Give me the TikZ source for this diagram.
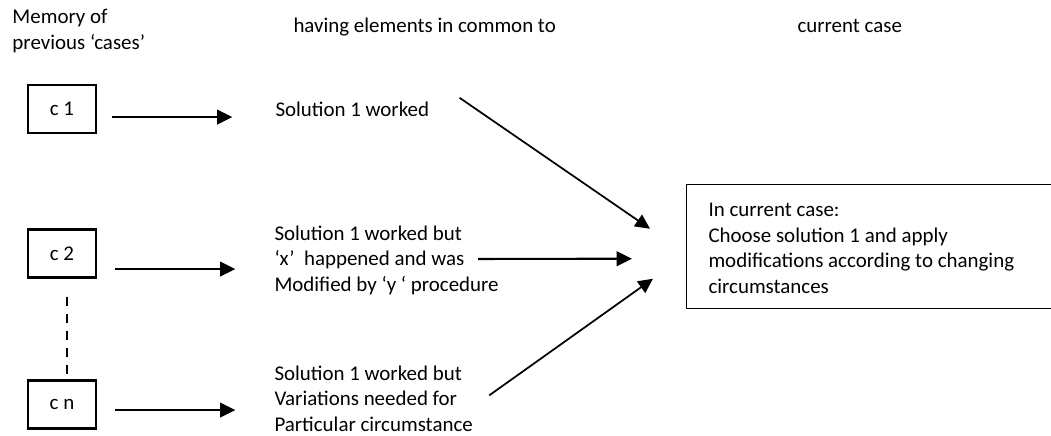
\documentclass[tikz,border=0pt]{standalone}
\usepackage{fontspec}
\setmainfont{Carlito}
\usetikzlibrary{arrows.meta,calc}

\tikzset{every picture/.style={line width=0.75pt}}
\tikzset{
  casebox/.style={draw, line width=2pt, minimum width=51pt, minimum height=36pt, inner sep=0pt},
  txt/.style={inner sep=0pt, align=left, anchor=base west},
  arr/.style={line width=1.6pt, -{Triangle[length=11.5pt,width=11pt]}},
  diag/.style={line width=1.3pt, -{Triangle[length=11pt,width=10.5pt]}},
}

\begin{document}
\begin{tikzpicture}[x=0.75pt,y=0.75pt,yscale=-1,xscale=1, font=\fontsize{15.7}{19.1}\selectfont]
\useasboundingbox (0,0) rectangle (1051,436);
\clip (0,0) rectangle (1051,436);

% Text Node
\draw (12,49) node [txt] (hdrmem) {Memory of\\previous ‘cases’};
% Text Node
\draw (293,32) node [txt] (hdrcommon) {having elements in common to};
% Text Node
\draw (797,32) node [txt] (hdrcur) {current case};

%Shape: Rectangle
\draw (62,109) node [casebox] (c1) {c 1};
%Shape: Rectangle
\draw (62,253.5) node [casebox] (c2) {c 2};
%Shape: Rectangle
\draw (62,404.5) node [casebox] (cn) {c n};

% Text Node
\draw (275,116) node [txt] (sol1) {Solution 1 worked};
% Text Node
\draw (274,291) node [txt] (sol2) {Solution 1 worked but\\‘x’\ \ happened and was\\Modified by ‘y ‘ procedure};
% Text Node
\draw (274,431) node [txt] (soln) {Solution 1 worked but\\Variations needed for\\Particular circumstance};

%Shape: Rectangle
\draw (686,184) node [draw, line width=1.1pt, anchor=north west, minimum width=288pt, minimum height=93pt] (curbox) {};
% Text Node
\draw (708,293) node [txt] (curtext) {In current case:\\Choose solution 1 and apply\\modifications according to changing\\circumstances};

%Straight Lines
\draw [arr] ($(c1.east)+(15,8)$) coordinate (a1) -- ([xshift=-32pt]a1 -| sol1.west);
%Straight Lines
\draw [arr] ($(c2.east)+(18,15.5)$) coordinate (a2) -- ([xshift=-29pt]a2 -| sol2.west);
%Straight Lines
\draw [arr] ($(cn.east)+(18,5.5)$) coordinate (an) -- ([xshift=-29pt]an -| soln.west);
%Dashed Line
\draw [line width=1.5pt, dash pattern=on 7pt off 5.75pt] ($(c2.south)+(5,18)$) -- ($(cn.north)+(5,0)$);

%Straight Lines
\coordinate (in1) at ($(curbox.west)+(-36,-18)$);
\coordinate (in2) at ($(curbox.west)+(-54,12)$);
\coordinate (in3) at ($(curbox.west)+(-33,32)$);
\draw [diag] ($(sol1.east)+(30,-11)$) -- (in1);
\draw [arr] ($(sol2.east)+(-21,-1)$) -- (in2);
\draw [diag] ($(soln.east)+(16,-3)$) -- (in3);

\end{tikzpicture}
\end{document}
